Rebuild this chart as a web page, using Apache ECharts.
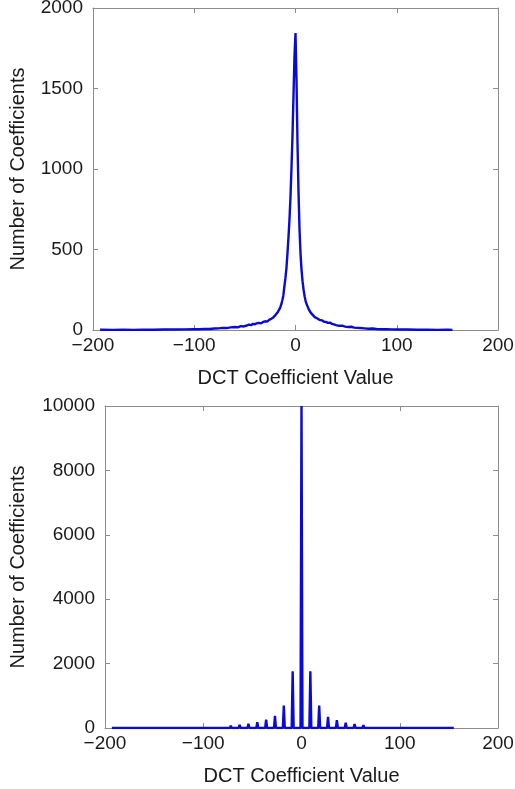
<!DOCTYPE html>
<html>
<head>
<meta charset="utf-8">
<script src="https://cdn.jsdelivr.net/npm/echarts@6/dist/echarts.min.js"></script>
<style>
  html, body { margin: 0; padding: 0; background: #fff; }
  #chart { width: 515px; height: 789px; }
</style>
</head>
<body>
<div id="chart"></div>
<script>
// top panel: unquantized DCT coefficient histogram
const topValue = [
  -193, -180, -170, -160, -150, -140, -130, -120, -110, -100, -95, -90, -85, -80, -76, -72, -68, -64,
  -60, -57, -54, -51, -48, -46, -44, -42, -40, -38, -36, -34, -32, -30, -28, -26, -24, -22,
  -20, -19, -18, -17, -16, -15, -14, -13, -12, -11, -10, -9, -8, -7, -6, -5, -4, -3, -2, -1,
  0, 1, 2, 3, 4, 5, 6, 7, 8, 9, 10, 11, 12, 13, 14, 15, 16, 17, 18, 19, 20,
  22, 24, 26, 28, 30, 32, 34, 36, 38, 40, 43, 46, 49, 52, 55, 58, 61, 64, 68, 72, 76, 80,
  85, 90, 95, 100, 110, 120, 130, 140, 150, 155
];
const topCount = [
  2, 1, 2, 1, 2, 2, 3, 3, 4, 5, 5, 7, 6, 9, 10, 13, 12, 16,
  19, 17, 24, 22, 28, 33, 30, 38, 36, 42, 44, 41, 50, 54, 52, 63, 70, 78,
  91, 96, 107, 117, 128, 142, 160, 185, 215, 270, 320, 380, 470, 570, 680, 820, 1000, 1200, 1450, 1700,
  1845, 1550, 1150, 850, 620, 470, 370, 300, 250, 210, 180, 160, 145, 130, 118, 108, 100, 94, 87, 80, 76,
  70, 62, 60, 52, 50, 44, 46, 38, 35, 30, 26, 27, 21, 19, 20, 15, 13, 12, 10, 8, 9, 6,
  5, 5, 4, 3, 3, 2, 2, 1, 2, 1
];

// bottom panel: quantized coefficients (only multiples of the step are populated)
const spikeValue = [
  -117, -108, -99, -90, -81, -72, -63, -54, -45, -36, -27, -18, -9,
  0, 9, 18, 27, 36, 45, 54, 63, 72, 81, 90, 99, 108, 117
];
const spikeCount = [
  5, 10, 20, 35, 50, 70, 95, 130, 180, 260, 380, 700, 1760,
  10000, 1760, 700, 350, 240, 165, 120, 85, 60, 45, 30, 18, 10, 5
];
const bottomRange = [-193, 155];

const xTicks = [-200, 200, 100];
const topYTicks = [0, 2000, 500];
const bottomYTicks = [0, 10000, 2000];

const topData = topValue.map((v, i) => [v, topCount[i]]);
const bottomData = [[bottomRange[0], 0]];
spikeValue.forEach((v, i) => {
  bottomData.push([v - 1, 0], [v, spikeCount[i]], [v + 1, 0]);
});
bottomData.push([bottomRange[1], 0]);

const font = "'Liberation Sans', Arial, Helvetica, sans-serif";
const textColor = "#1a1a1a";
const boxColor = "#8c8c8c";
const lineColor = "#0a0ad6";
const plain = (v) => String(v).replace("-", "\u2212");

// an axis per side so the box and the inward ticks show on all four edges
const makeX = (gridIndex, position, withLabels, name) => ({
  type: "value",
  gridIndex,
  position,
  min: xTicks[0],
  max: xTicks[1],
  interval: xTicks[2],
  name: withLabels ? name : "",
  nameLocation: "middle",
  nameGap: 38,
  nameTextStyle: { fontFamily: font, fontSize: 20, color: textColor },
  axisLine: { show: true, onZero: false, lineStyle: { color: boxColor, width: 1 } },
  axisTick: { show: true, inside: true, length: 5, lineStyle: { color: boxColor } },
  axisLabel: {
    show: withLabels,
    margin: 6,
    fontFamily: font,
    fontSize: 19,
    color: textColor,
    formatter: plain,
  },
  splitLine: { show: false },
});

const makeY = (gridIndex, position, ticks, withLabels, nameGap) => ({
  type: "value",
  gridIndex,
  position,
  min: ticks[0],
  max: ticks[1],
  interval: ticks[2],
  name: withLabels ? "Number of Coefficients" : "",
  nameLocation: "middle",
  nameGap,
  nameTextStyle: { fontFamily: font, fontSize: 20, color: textColor },
  axisLine: { show: true, onZero: false, lineStyle: { color: boxColor, width: 1 } },
  axisTick: { show: true, inside: true, length: 5, lineStyle: { color: boxColor } },
  axisLabel: {
    show: withLabels,
    margin: 10,
    fontFamily: font,
    fontSize: 19,
    color: textColor,
    formatter: plain,
  },
  splitLine: { show: false },
});

const chart = echarts.init(document.getElementById("chart"), null, { renderer: "canvas" });
chart.setOption({
  animation: false,
  backgroundColor: "#fff",
  grid: [
    { left: 93, right: 17, top: 8, height: 322, outerBoundsMode: "none", containLabel: false },
    { left: 105, right: 17, top: 406, height: 322, outerBoundsMode: "none", containLabel: false },
  ],
  xAxis: [
    makeX(0, "bottom", true, "DCT Coefficient Value"),
    makeX(0, "top", false),
    makeX(1, "bottom", true, "DCT Coefficient Value"),
    makeX(1, "top", false),
  ],
  yAxis: [
    makeY(0, "left", topYTicks, true, 65),
    makeY(0, "right", topYTicks, false, 0),
    makeY(1, "left", bottomYTicks, true, 77),
    makeY(1, "right", bottomYTicks, false, 0),
  ],
  series: [
    {
      type: "line",
      xAxisIndex: 0,
      yAxisIndex: 0,
      data: topData,
      showSymbol: false,
      lineStyle: { color: lineColor, width: 2.4 },
      clip: true,
    },
    {
      type: "line",
      xAxisIndex: 2,
      yAxisIndex: 2,
      data: bottomData,
      showSymbol: false,
      lineStyle: { color: lineColor, width: 2.4 },
      clip: true,
    },
  ],
});
</script>
</body>
</html>
